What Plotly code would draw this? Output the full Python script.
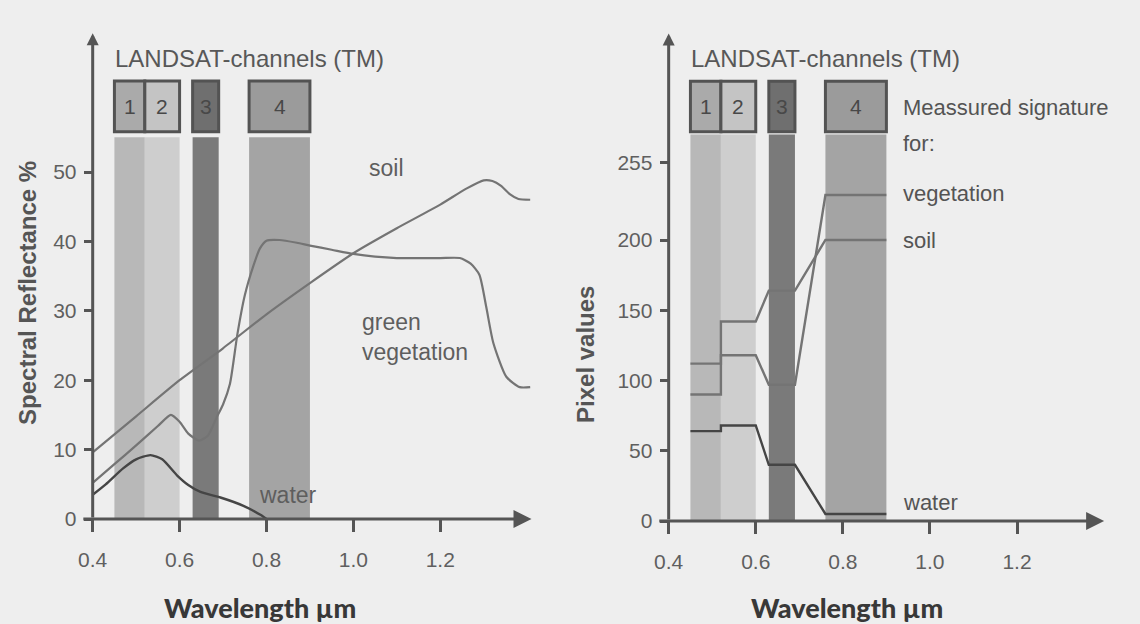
import plotly.graph_objects as go

W, H = 1140, 624

# ---------------- data ----------------
band_labels = ["1", "2", "3", "4"]
band_start = [0.45, 0.52, 0.63, 0.76]
band_end = [0.52, 0.60, 0.69, 0.90]
band_fill = ["#b8b8b8", "#cecece", "#7a7a7a", "#a4a4a4"]
box_fill = ["#aaaaaa", "#c4c4c4", "#6f6f6f", "#9b9b9b"]

# left chart: spectral reflectance curves (%)
wl_soil = [0.40, 0.50, 0.60, 0.70, 0.80, 0.90, 1.00, 1.10, 1.20, 1.26, 1.30, 1.32, 1.34, 1.36, 1.38, 1.407]
refl_soil = [9.6, 14.8, 20.0, 24.6, 29.5, 34.0, 38.3, 41.9, 45.3, 47.6, 48.8, 48.7, 48.0, 46.8, 46.1, 46.0]

wl_veg = [0.40, 0.45, 0.50, 0.55, 0.58, 0.60, 0.62, 0.645, 0.665, 0.685, 0.70, 0.716, 0.733, 0.75,
          0.77, 0.785, 0.80, 0.83, 0.87, 0.90, 0.95, 1.00, 1.05, 1.10, 1.20, 1.245, 1.27, 1.29,
          1.306, 1.322, 1.352, 1.383, 1.407]
refl_veg = [5.2, 7.9, 10.6, 13.4, 15.0, 14.0, 12.3, 11.3, 12.0, 14.6, 16.5, 19.5, 26.6, 32.2,
            36.5, 39.0, 40.1, 40.2, 39.8, 39.4, 38.8, 38.2, 37.8, 37.6, 37.6, 37.6, 36.8, 35.2,
            30.5, 25.4, 20.5, 19.0, 19.0]

wl_water = [0.40, 0.43, 0.47, 0.50, 0.533, 0.56, 0.594, 0.62, 0.648, 0.694, 0.747, 0.786, 0.80]
refl_water = [3.5, 5.0, 7.3, 8.6, 9.2, 8.6, 6.3, 4.9, 3.9, 3.1, 1.9, 0.6, 0.0]

# right chart: measured pixel values per channel
pix_veg = [90, 118, 97, 232]
pix_soil = [112, 142, 164, 200]
pix_water = [64, 68, 40, 5]

x_ticks = [0.4, 0.6, 0.8, 1.0, 1.2]
x_tick_text = ["0.4", "0.6", "0.8", "1.0", "1.2"]
refl_ticks = [0, 10, 20, 30, 40, 50]
pix_ticks = [0, 50, 100, 150, 200, 255]

# ---------------- layout geometry (pixel mapping) ----------------
L = dict(xv0=0.4, xp0=89, xk=436, yp0=519, yk=6.94, xr=[0.375, 1.412], yr=[-1.8, 70.2])
R = dict(xv0=0.4, xp0=667, xk=437, yp0=521, yk=1.405, xr=[0.375, 1.402], yr=[-8.5, 347.5])


def xdom(g):
    a = g["xp0"] + (g["xr"][0] - g["xv0"]) * g["xk"]
    b = g["xp0"] + (g["xr"][1] - g["xv0"]) * g["xk"]
    return [a / W, b / W]


def ydom(g):
    top = g["yp0"] - g["yr"][1] * g["yk"]
    bot = g["yp0"] - g["yr"][0] * g["yk"]
    return [1 - bot / H, 1 - top / H]


FONT = "Liberation Sans, Arial, sans-serif"
AX = "#555555"
TXT = "#585858"
LINE_LIGHT = "#747474"
LINE_DARK = "#454545"

fig = go.Figure()

# left curves
fig.add_trace(go.Scatter(x=wl_soil, y=refl_soil, mode="lines", xaxis="x", yaxis="y",
                         line=dict(color=LINE_LIGHT, width=2.2, shape="spline", smoothing=0.6)))
fig.add_trace(go.Scatter(x=wl_veg, y=refl_veg, mode="lines", xaxis="x", yaxis="y",
                         line=dict(color=LINE_LIGHT, width=2.2, shape="spline", smoothing=0.6)))
fig.add_trace(go.Scatter(x=wl_water, y=refl_water, mode="lines", xaxis="x", yaxis="y",
                         line=dict(color=LINE_DARK, width=2.4, shape="spline", smoothing=0.6)))


def step_xy(vals):
    xs, ys = [], []
    for s, e, v in zip(band_start, band_end, vals):
        xs += [s, e]
        ys += [v, v]
    return xs, ys


for vals, col in [(pix_veg, LINE_LIGHT), (pix_soil, LINE_LIGHT), (pix_water, LINE_DARK)]:
    xs, ys = step_xy(vals)
    fig.add_trace(go.Scatter(x=xs, y=ys, mode="lines", xaxis="x2", yaxis="y2",
                             line=dict(color=col, width=2.4)))

shapes = []
annotations = []

for xr, yr, band_top, box_lo, box_hi, title_y in [("x", "y", 55.0, 55.8, 63.1, 66.3),
                                                   ("x2", "y2", 275, 277, 313, 329.5)]:
    for s, e, bf, xf, lab in zip(band_start, band_end, band_fill, box_fill, band_labels):
        shapes.append(dict(type="rect", xref=xr, yref=yr, x0=s, x1=e, y0=0, y1=band_top,
                           fillcolor=bf, line=dict(width=0), layer="below"))
        shapes.append(dict(type="rect", xref=xr, yref=yr, x0=s, x1=e, y0=box_lo, y1=box_hi,
                           fillcolor=xf, line=dict(color="#535353", width=3), layer="above"))
        annotations.append(dict(xref=xr, yref=yr, x=(s + e) / 2, y=(box_lo + box_hi) / 2,
                                text=lab, showarrow=False,
                                font=dict(family=FONT, size=21, color="#484848")))
    annotations.append(dict(xref=xr, yref=yr, x=0.446, y=title_y, xanchor="left", yanchor="middle",
                            text="LANDSAT-channels (TM)", showarrow=False,
                            font=dict(family=FONT, size=24, color=TXT)))

# axis arrows
for xr, yr, xend, yend, xr0 in [("x", "y", 1.41, 70.0, 0.375), ("x2", "y2", 1.40, 347, 0.375)]:
    annotations.append(dict(xref=xr, yref=yr, axref=xr, ayref=yr, x=xend, y=0, ax=xr0, ay=0,
                            text="", showarrow=True, arrowhead=2, arrowsize=1.2, arrowwidth=3,
                            arrowcolor=AX))
    annotations.append(dict(xref=xr, yref=yr, axref=xr, ayref=yr, x=0.4, y=yend, ax=0.4, ay=0,
                            text="", showarrow=True, arrowhead=2, arrowsize=0.8, arrowwidth=3,
                            arrowcolor=AX))

# curve labels, left
lab_font = dict(family=FONT, size=23, color="#5e5e5e")
annotations += [
    dict(xref="x", yref="y", x=1.077, y=50.6, text="soil", showarrow=False, font=lab_font),
    dict(xref="x", yref="y", x=1.015, y=26.2, xanchor="left", align="left",
         text="green<br>vegetation", showarrow=False, font=lab_font),
    dict(xref="x", yref="y", x=0.85, y=3.5, text="water", showarrow=False, font=lab_font),
]
# labels, right
rfont = dict(family=FONT, size=22, color="#545454")
for txt, yv in [("Meassured signature", 294), ("for:", 269), ("vegetation", 233), ("soil", 200),
                ("water", 13.5)]:
    annotations.append(dict(xref="x2", yref="y2", x=0.933, y=yv, xanchor="left", yanchor="middle",
                            text=txt, showarrow=False, font=rfont))

# axis titles
ytfont = dict(family=FONT, size=24, color="#555555")
annotations += [
    dict(xref="paper", yref="paper", x=23 / W, y=1 - 293 / H, xanchor="center", yanchor="middle",
         text="<b>Spectral Reflectance %</b>", textangle=-90, showarrow=False, font=ytfont),
    dict(xref="paper", yref="paper", x=583 / W, y=1 - 354 / H, xanchor="center", yanchor="middle",
         text="<b>Pixel values</b>", textangle=-90, showarrow=False, font=ytfont),
]
xtfont = dict(family="Lato, sans-serif", size=27, color="#383838", weight=900)
annotations += [
    dict(xref="paper", yref="paper", x=257 / W, y=1 - 607 / H, xanchor="center", yanchor="middle",
         text="Wavelength µm", showarrow=False, font=xtfont),
    dict(xref="paper", yref="paper", x=846 / W, y=1 - 607 / H, xanchor="center", yanchor="middle",
         text="Wavelength µm", showarrow=False, font=xtfont),
]

tickfont = dict(family=FONT, size=21, color="#5f5f5f")


def xaxis(g):
    return dict(domain=xdom(g), range=g["xr"], anchor="free", position=1 - g["yp0"] / H,
                tickvals=x_ticks, ticktext=x_tick_text, ticks="outside", ticklen=12,
                tickwidth=2.5, tickcolor=AX, showline=False, showgrid=False, zeroline=False,
                tickfont=tickfont, ticklabelstandoff=10, fixedrange=True)


def yaxis(g, tv):
    return dict(domain=ydom(g), range=g["yr"], anchor="free", position=g["xp0"] / W,
                tickvals=tv, ticks="outside", ticklen=9, tickwidth=2.5, tickcolor=AX,
                showline=False, showgrid=False, zeroline=False, tickfont=tickfont,
                ticklabelstandoff=3, fixedrange=True)


fig.update_layout(
    width=W, height=H, margin=dict(l=0, r=0, t=0, b=0),
    paper_bgcolor="#eeeeee", plot_bgcolor="rgba(0,0,0,0)",
    showlegend=False,
    xaxis=xaxis(L), yaxis=yaxis(L, refl_ticks),
    xaxis2=xaxis(R), yaxis2=yaxis(R, pix_ticks),
    shapes=shapes, annotations=annotations,
)

fig.write_html("out.html")
